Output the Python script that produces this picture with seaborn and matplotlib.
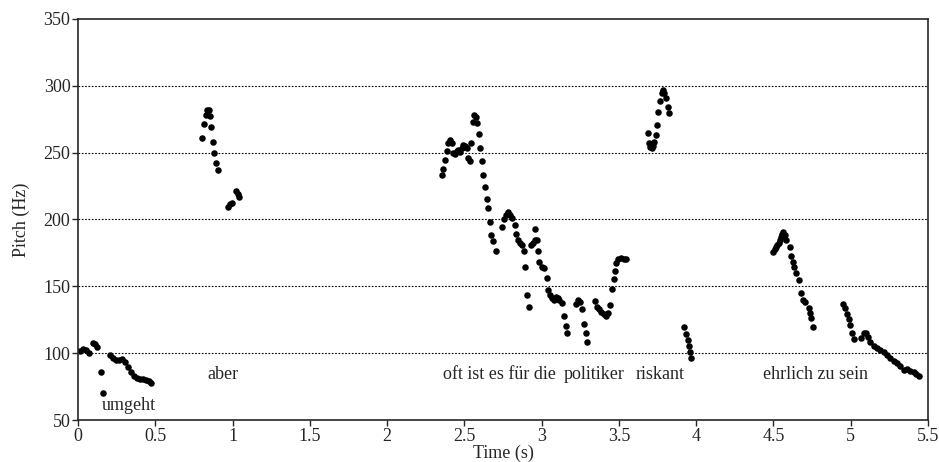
import pandas as pd
import matplotlib
matplotlib.use('Agg')
import matplotlib.pyplot as plt
import seaborn as sns

# pitch track (time in s, pitch in Hz)
umgeht_t = [0.013, 0.032, 0.052, 0.071, 0.097, 0.110, 0.123, 0.149, 0.162,
            0.207, 0.227, 0.246, 0.265, 0.285, 0.304, 0.324, 0.343, 0.362,
            0.382, 0.401, 0.421, 0.440, 0.460, 0.472]
umgeht_f = [101.6, 103.1, 102.4, 100.1, 107.6, 106.8, 104.6, 85.9, 70.2,
            98.6, 96.4, 94.9, 94.9, 95.6, 93.4, 89.6, 85.9, 82.9,
            81.4, 80.7, 80.7, 79.9, 79.2, 77.7]

aber_t = [0.803, 0.816, 0.828, 0.835, 0.848, 0.854, 0.861, 0.874, 0.880,
          0.893, 0.906, 0.971, 0.984, 0.997, 1.023, 1.036, 1.042]
aber_f = [260.9, 271.4, 278.1, 281.7, 281.7, 277.4, 269.1, 257.9, 249.7,
          242.2, 237.0, 209.3, 211.6, 212.3, 221.3, 219.0, 216.8]

oft_t = [2.354, 2.364, 2.375, 2.386, 2.397, 2.408, 2.419, 2.429, 2.440,
         2.451, 2.461, 2.472, 2.484, 2.494, 2.505, 2.516, 2.526, 2.537,
         2.544, 2.555, 2.563, 2.574, 2.584, 2.595, 2.604, 2.615, 2.623,
         2.634, 2.645, 2.654, 2.665, 2.673, 2.684, 2.706, 2.744, 2.757,
         2.770, 2.785, 2.796, 2.809, 2.827, 2.835, 2.846, 2.861, 2.876,
         2.887, 2.895, 2.904, 2.915, 2.932, 2.943, 2.956, 2.958, 2.969,
         2.975, 2.986, 3.003, 3.016, 3.034, 3.044, 3.055, 3.066, 3.081,
         3.094, 3.105, 3.115, 3.131, 3.146, 3.157, 3.167]
oft_f = [233.2, 237.7, 244.5, 251.4, 257.4, 259.4, 257.0, 249.9, 249.0,
         251.4, 252.0, 250.7, 253.2, 255.7, 254.9, 253.7, 245.7, 243.7,
         257.0, 273.1, 278.1, 276.4, 271.9, 263.7, 253.2, 243.7, 233.2,
         224.0, 215.5, 208.8, 198.1, 188.1, 184.1, 176.6, 194.6, 200.6,
         203.3, 205.3, 203.3, 200.9, 195.8, 189.1, 184.6, 182.6, 180.9,
         176.4, 164.7, 143.5, 134.7, 180.9, 182.4, 192.6, 184.6, 184.6,
         176.4, 168.0, 164.7, 163.5, 156.0, 147.2, 143.5, 141.0, 139.8,
         142.2, 141.0, 139.8, 137.7, 128.0, 120.3, 114.8]

politiker_t = [3.223, 3.238, 3.249, 3.264, 3.275, 3.284, 3.294, 3.344, 3.357,
               3.372, 3.387, 3.403, 3.417, 3.428, 3.443, 3.456, 3.465, 3.476,
               3.484, 3.497, 3.513, 3.530, 3.547]
politiker_f = [136.8, 139.8, 138.5, 133.2, 121.8, 115.3, 108.1, 139.0, 134.7,
               132.8, 131.0, 129.3, 128.0, 129.8, 136.0, 147.8, 155.5, 161.4,
               167.2, 170.2, 170.9, 170.4, 170.2]

riskant_t = [3.685, 3.696, 3.702, 3.713, 3.720, 3.728, 3.737, 3.746, 3.756,
             3.767, 3.778, 3.784, 3.793, 3.806, 3.817, 3.827,
             3.924, 3.935, 3.944, 3.953, 3.961, 3.968]
riskant_f = [264.4, 257.0, 254.4, 253.7, 255.2, 257.7, 262.9, 270.6, 280.4,
             288.8, 294.8, 296.8, 294.8, 290.6, 283.9, 279.8,
             119.8, 114.3, 109.8, 105.6, 100.9, 96.4]

ehrlich_t = [4.500, 4.509, 4.518, 4.526, 4.533, 4.541, 4.548, 4.555, 4.561,
             4.572, 4.583, 4.604, 4.615, 4.626, 4.636, 4.647, 4.665, 4.678,
             4.688, 4.706, 4.727, 4.738, 4.744, 4.753]
ehrlich_f = [175.9, 177.8, 179.6, 181.0, 182.6, 185.0, 187.1, 189.0, 190.8,
             188.4, 184.6, 179.2, 172.7, 168.4, 164.2, 159.7, 154.7, 145.2,
             139.8, 138.5, 133.5, 130.2, 126.1, 119.8]

sein_t = [4.949, 4.964, 4.975, 4.986, 4.997, 5.008, 5.023, 5.066, 5.083,
          5.096, 5.109, 5.126, 5.148, 5.170, 5.191, 5.212, 5.234, 5.256,
          5.277, 5.299, 5.320, 5.342, 5.364, 5.385, 5.407, 5.424, 5.439]
sein_f = [136.8, 133.5, 129.3, 125.3, 121.1, 115.3, 110.4, 111.6, 114.8,
          115.3, 112.3, 108.6, 105.3, 103.6, 102.4, 101.1, 98.6, 96.1,
          94.4, 92.9, 90.4, 87.4, 88.4, 86.6, 86.1, 84.4, 82.9]

words = ['umgeht', 'aber', 'oft ist es für die', 'politiker', 'riskant', 'ehrlich zu sein']
word_t = [0.33, 0.94, 2.73, 3.34, 3.77, 4.77]
word_f = [60.5, 83.7, 83.7, 83.7, 83.7, 83.7]

t_all = umgeht_t + aber_t + oft_t + politiker_t + riskant_t + ehrlich_t + sein_t
f_all = umgeht_f + aber_f + oft_f + politiker_f + riskant_f + ehrlich_f + sein_f
df = pd.DataFrame({'Time': t_all, 'Pitch': f_all})

sns.set_style('ticks')
plt.rcParams['font.family'] = ['Liberation Serif', 'DejaVu Serif']
plt.rcParams['font.size'] = 13

fig = plt.figure(figsize=(9.39, 4.62), dpi=100)
ax = fig.add_axes([0.0831, 0.0909, 0.9052, 0.868])

for yv in [100, 150, 200, 250, 300]:
    ax.axhline(yv, color='black', lw=0.8, ls=(0, (1.5, 1.5)), zorder=0)

sns.scatterplot(data=df, x='Time', y='Pitch', ax=ax, color='black',
                s=22, linewidth=0, legend=False)

for w, tt, ff in zip(words, word_t, word_f):
    ax.text(tt, ff, w, ha='center', va='center', fontsize=13)

ax.set_xlim(0, 5.5)
ax.set_ylim(50, 350)
ax.set_xticks([0, 0.5, 1, 1.5, 2, 2.5, 3, 3.5, 4, 4.5, 5, 5.5])
ax.set_xticklabels(['0', '0.5', '1', '1.5', '2', '2.5', '3', '3.5', '4', '4.5', '5', '5.5'])
ax.set_yticks([50, 100, 150, 200, 250, 300, 350])
ax.tick_params(direction='out', length=4, width=1, pad=1.5, labelsize=13)
for sp in ax.spines.values():
    sp.set_linewidth(1.2)
    sp.set_visible(True)
ax.set_xlabel('Time (s)', fontsize=13, labelpad=0)
ax.set_ylabel('Pitch (Hz)', fontsize=13, labelpad=10)

fig.savefig('out.png', dpi=100)
